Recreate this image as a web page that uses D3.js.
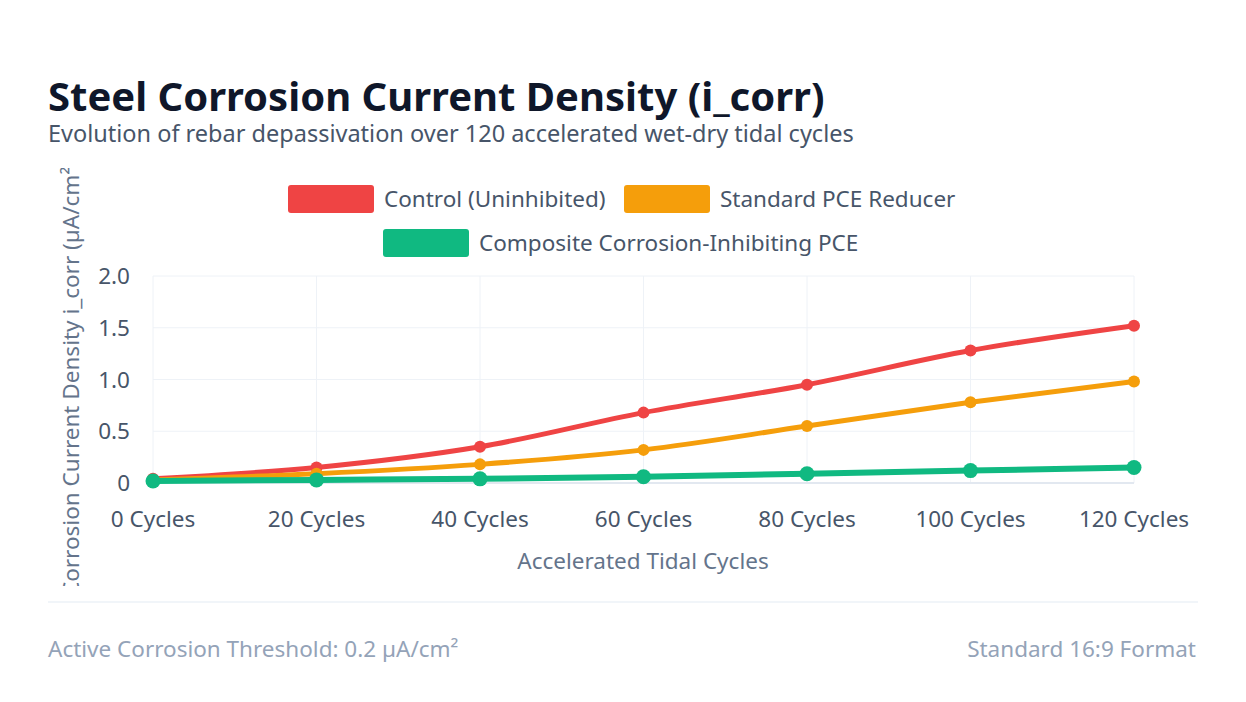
<!DOCTYPE html>
<html><head><meta charset="utf-8">
<script src="https://cdn.jsdelivr.net/npm/d3@7"></script>
<style>
body{margin:0;background:#fff;font-family:"Noto Sans","Open Sans",sans-serif;}
</style></head>
<body><svg id="chart" width="1246" height="702"></svg>
<script>
const categories = ["0 Cycles","20 Cycles","40 Cycles","60 Cycles","80 Cycles","100 Cycles","120 Cycles"];
const controlValues = [0.04, 0.15, 0.35, 0.68, 0.95, 1.28, 1.52];
const standardValues = [0.03, 0.09, 0.18, 0.32, 0.55, 0.78, 0.98];
const compositeValues = [0.02, 0.03, 0.04, 0.06, 0.09, 0.12, 0.15];
const yTicks = [0, 0.5, 1.0, 1.5, 2.0];
const yTickLabels = ["0", "0.5", "1.0", "1.5", "2.0"];

const series = [
    {name: "Control (Uninhibited)", values: controlValues, color: "#ef4444", width: 5, r: 6},
    {name: "Standard PCE Reducer", values: standardValues, color: "#f59e0b", width: 5, r: 6},
    {name: "Composite Corrosion-Inhibiting PCE", values: compositeValues, color: "#10b981", width: 6, r: 7.5}
];

const fs = 22.5;
const svg = d3.select("#chart");

// title block
svg.append("text").attr("x", 48).attr("y", 111)
    .attr("font-size", 40).attr("font-weight", 700).attr("fill", "#0f172a")
    .text("Steel Corrosion Current Density (i_corr)");
svg.append("text").attr("x", 48).attr("y", 142)
    .attr("font-size", 23.5).attr("fill", "#475569")
    .text("Evolution of rebar depassivation over 120 accelerated wet-dry tidal cycles");

// legend
const legendRows = [
    [{s: series[0], x: 288}, {s: series[1], x: 624}],
    [{s: series[2], x: 383}]
];
legendRows.forEach((row, i) => {
    const y = 199 + i * 44;
    row.forEach(item => {
        svg.append("rect").attr("x", item.x).attr("y", y - 14)
            .attr("width", 86).attr("height", 28).attr("rx", 3)
            .attr("fill", item.s.color);
        svg.append("text").attr("x", item.x + 96).attr("y", y + 8)
            .attr("font-size", fs).attr("fill", "#475569").text(item.s.name);
    });
});

// scales
const xScale = d3.scalePoint().domain(categories).range([153, 1134]);
const yScale = d3.scaleLinear().domain([0, 2]).range([483, 276]);

// grid
svg.append("g").selectAll("line").data(categories).join("line")
    .attr("x1", d => xScale(d)).attr("x2", d => xScale(d))
    .attr("y1", 276).attr("y2", 483)
    .attr("stroke", "#eef2f7").attr("stroke-width", 1);
svg.append("g").selectAll("line").data(yTicks.slice(1)).join("line")
    .attr("x1", 153).attr("x2", 1134)
    .attr("y1", d => yScale(d)).attr("y2", d => yScale(d))
    .attr("stroke", "#eef2f7").attr("stroke-width", 1);
svg.append("line").attr("x1", 153).attr("x2", 1134)
    .attr("y1", yScale(0)).attr("y2", yScale(0))
    .attr("stroke", "#e2e8f0").attr("stroke-width", 2);

// axes labels
svg.append("g").selectAll("text").data(yTicks).join("text")
    .attr("x", 130).attr("y", d => yScale(d) + 8)
    .attr("text-anchor", "end").attr("font-size", fs).attr("fill", "#475569")
    .text((d, i) => yTickLabels[i]);
svg.append("g").selectAll("text").data(categories).join("text")
    .attr("x", d => xScale(d)).attr("y", 527)
    .attr("text-anchor", "middle").attr("font-size", fs).attr("fill", "#475569")
    .text(d => d);
svg.append("text").attr("x", 643).attr("y", 569)
    .attr("text-anchor", "middle").attr("font-size", fs).attr("fill", "#64748b")
    .text("Accelerated Tidal Cycles");

// y title, clipped like the original
svg.append("clipPath").attr("id", "yclip").append("rect")
    .attr("x", 40).attr("y", 168).attr("width", 60).attr("height", 418);
svg.append("g").attr("clip-path", "url(#yclip)")
    .append("text")
    .attr("transform", "translate(79,378) rotate(-90)")
    .attr("text-anchor", "middle").attr("font-size", fs).attr("fill", "#64748b")
    .text("Corrosion Current Density i_corr (µA/cm²)");

// lines
const line = d3.line()
    .x((d, i) => xScale(categories[i]))
    .y(d => yScale(d))
    .curve(d3.curveMonotoneX);

series.forEach(s => {
    const g = svg.append("g");
    g.append("path").datum(s.values).attr("d", line)
        .attr("fill", "none").attr("stroke", s.color)
        .attr("stroke-width", s.width).attr("stroke-linecap", "round");
    g.selectAll("circle").data(s.values).join("circle")
        .attr("cx", (d, i) => xScale(categories[i]))
        .attr("cy", d => yScale(d))
        .attr("r", s.r).attr("fill", s.color);
});

// footer
svg.append("line").attr("x1", 48).attr("x2", 1198).attr("y1", 602).attr("y2", 602)
    .attr("stroke", "#f1f5f9").attr("stroke-width", 2);
svg.append("text").attr("x", 48).attr("y", 657)
    .attr("font-size", fs).attr("fill", "#94a3b8")
    .text("Active Corrosion Threshold: 0.2 µA/cm²");
svg.append("text").attr("x", 1196).attr("y", 657).attr("text-anchor", "end")
    .attr("font-size", fs).attr("fill", "#94a3b8")
    .text("Standard 16:9 Format");
</script></body></html>
